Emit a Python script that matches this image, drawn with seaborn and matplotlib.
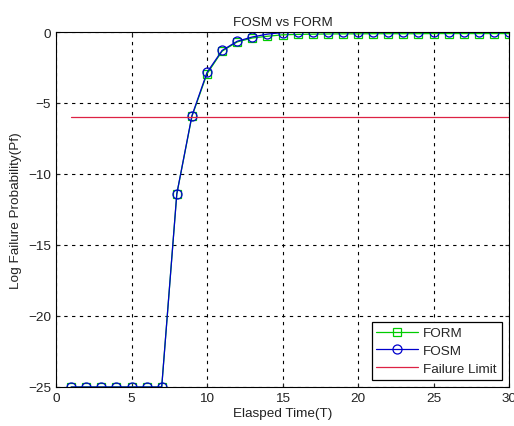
import numpy as np
import pandas as pd
import matplotlib
matplotlib.use("Agg")
import matplotlib.pyplot as plt
import seaborn as sns

# Elapsed time steps and log failure probabilities
elapsed_time = [1, 2, 3, 4, 5, 6, 7, 8, 9, 10, 11, 12, 13, 14, 15,
                16, 17, 18, 19, 20, 21, 22, 23, 24, 25, 26, 27, 28, 29, 30]
fosm_logpf = [-25, -25, -25, -25, -25, -25, -25, -11.4, -5.9, -2.85, -1.3, -0.65,
              -0.35, -0.15, -0.04, -0.03, -0.02, -0.01, 0, 0, 0, 0, 0, 0, 0, 0, 0, 0, 0, 0]
form_logpf = [-25, -25, -25, -25, -25, -25, -25, -11.4, -5.95, -2.95, -1.35, -0.7,
              -0.42, -0.3, -0.2, -0.17, -0.15, -0.14, -0.13, -0.13, -0.12, -0.12,
              -0.12, -0.12, -0.11, -0.11, -0.11, -0.11, -0.11, -0.11]
failure_limit = -6.0

df = pd.DataFrame({"T": elapsed_time, "FORM": form_logpf, "FOSM": fosm_logpf})

sns.set_style("white")
plt.rcParams["font.family"] = ["Liberation Sans", "DejaVu Sans"]

fig = plt.figure(figsize=(5.14, 4.27), dpi=100)
ax = fig.add_axes([56 / 514, 1 - 388 / 427, (509 - 56) / 514, (388 - 33) / 427])

sns.lineplot(data=df, x="T", y="FORM", ax=ax, color="#00cc00", marker="s",
             markersize=6, markerfacecolor="none", markeredgecolor="#00cc00",
             markeredgewidth=0.9, linewidth=0.9, label="FORM")
sns.lineplot(data=df, x="T", y="FOSM", ax=ax, color="#0000cc", marker="o",
             markersize=6.5, markerfacecolor="none", markeredgecolor="#0000cc",
             markeredgewidth=0.9, linewidth=0.9, label="FOSM")
sns.lineplot(x=[elapsed_time[0], elapsed_time[-1]], y=[failure_limit, failure_limit],
             ax=ax, color="#dd2244", linewidth=0.9, label="Failure Limit")

ax.set_xlim(0, 30)
ax.set_ylim(-25, 0)
ax.set_xticks([0, 5, 10, 15, 20, 25, 30])
ax.set_yticks([-25, -20, -15, -10, -5, 0])
ax.grid(True, color="black", linestyle=(0, (3, 4)), linewidth=0.8)
for s in ax.spines.values():
    s.set_color("black")
    s.set_linewidth(0.8)
fs = 9.7
ax.tick_params(axis="both", labelsize=fs, colors="#222222", direction="in",
               length=3, left=True, bottom=True, top=True, right=True)
ax.set_title("FOSM vs FORM", fontsize=fs, color="#222222", pad=5)
ax.set_xlabel("Elasped Time(T)", fontsize=fs, color="#222222", labelpad=2)
ax.set_ylabel("Log Failure Probability(Pf)", fontsize=fs, color="#222222", labelpad=4)

leg = ax.legend(loc="lower right", fontsize=fs, frameon=True, fancybox=False,
                edgecolor="black", framealpha=1, borderpad=0.35, handlelength=3.1,
                handletextpad=0.4, labelspacing=0.4, borderaxespad=0.55)
leg.get_frame().set_linewidth(0.9)

fig.savefig("out.png", dpi=100)
